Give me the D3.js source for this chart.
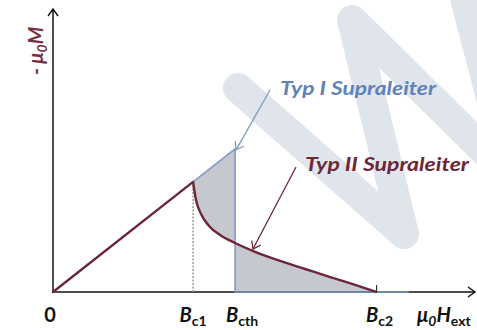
<!DOCTYPE html>
<html>
<head>
<meta charset="utf-8">
<script src="https://cdn.jsdelivr.net/npm/d3@7"></script>
<style>
  html, body { margin: 0; padding: 0; background: #fff; }
  svg { display: block; }
  text { font-family: Lato, "Open Sans", "DejaVu Sans", sans-serif; font-weight: bold; }
</style>
</head>
<body>
<svg id="chart" width="477" height="330"></svg>
<script>
// Magnetisation curves of superconductors: -mu0*M versus applied field mu0*H_ext
// (field in units of B_c1, magnetisation in units of mu0*H at B_c1)

// axis ticks on the field axis
const tickValues = [0, 1.0, 1.3, 2.31];
const tickNames  = [["0", ""], ["B", "c1"], ["B", "cth"], ["B", "c2"]];

// Meissner phase (shared by both types): -mu0M = mu0H up to B_c1
const meissnerH = [0, 1.0];
const meissnerM = [0, 1.0];

// Type I superconductor: linear up to B_cth, then drops to zero
const type1H = [1.0, 1.3, 1.3, 2.54];
const type1M = [1.0, 1.3, 0, 0];

// Type II superconductor: mixed phase between B_c1 and B_c2
const type2H = [1.0, 1.021, 1.057, 1.114, 1.193, 1.3, 1.443, 1.621, 1.8, 1.979, 2.157, 2.31];
const type2M = [1.0, 0.836, 0.709, 0.6, 0.518, 0.445, 0.364, 0.282, 0.209, 0.136, 0.064, 0.0];

const svg = d3.select("#chart");

const x = d3.scaleLinear().domain([0, 3.02]).range([53, 476]);
const y = d3.scaleLinear().domain([0, 2.58]).range([292, 8]);

const maroon = "#6b2737";
const steel = "#7f9ac4";

// background logo (a large tilted "W")
svg.append("path")
  .attr("d", "M238,88 L404,234 L352,20 L512,178 L455,-40")
  .attr("fill", "none")
  .attr("stroke", "#e0e5eb")
  .attr("stroke-width", 30)
  .attr("stroke-linecap", "round")
  .attr("stroke-linejoin", "round");

// arrow markers
const defs = svg.append("defs");
function chevron(id, color, w) {
  defs.append("marker")
    .attr("id", id)
    .attr("viewBox", "-8 -8 16 16")
    .attr("markerUnits", "userSpaceOnUse")
    .attr("markerWidth", 16).attr("markerHeight", 16)
    .attr("refX", 0).attr("refY", 0)
    .attr("orient", "auto")
    .append("path")
    .attr("d", "M-7,-5 L0,0 L-7,5")
    .attr("fill", "none")
    .attr("stroke", color)
    .attr("stroke-width", w);
}
chevron("axisHead", "#111", 1.4);
chevron("steelHead", steel, 1.3);
chevron("maroonHead", maroon, 1.3);

// shaded area: symmetric difference of the two magnetisation regions
const pts = (hs, ms) => hs.map((h, i) => [h, ms[i]]);
const region1 = [[0, 0], [1.3, 1.3], [1.3, 0]];
const lineLin = d3.line().x(d => x(d[0])).y(d => y(d[1]));
const lineCurve = d3.line().x(d => x(d[0])).y(d => y(d[1])).curve(d3.curveMonotoneX);
const region2Path = "M" + x(0) + "," + y(0) + "L" + lineCurve(pts(type2H, type2M)).slice(1) + "Z";
svg.append("path")
  .attr("d", lineLin(region1) + "Z" + region2Path)
  .attr("fill", "#c5c8cf")
  .attr("fill-rule", "evenodd");

// x axis
svg.append("line")
  .attr("x1", x(0)).attr("y1", y(0))
  .attr("x2", x(3.02) - 1).attr("y2", y(0))
  .attr("stroke", "#111").attr("stroke-width", 1.5)
  .attr("marker-end", "url(#axisHead)");

// y axis
svg.append("line")
  .attr("x1", x(0)).attr("y1", y(0))
  .attr("x2", x(0)).attr("y2", y(2.58) + 1)
  .attr("stroke", "#111").attr("stroke-width", 1.5)
  .attr("marker-end", "url(#axisHead)");

// dotted guide at B_c1
svg.append("line")
  .attr("x1", x(1.0)).attr("y1", y(1.0) + 3)
  .attr("x2", x(1.0)).attr("y2", y(0))
  .attr("stroke", "#9a9a9a").attr("stroke-width", 1.5)
  .attr("stroke-dasharray", "2,1.5");

// type I curve
svg.append("path")
  .attr("d", lineLin(pts(type1H, type1M)))
  .attr("fill", "none")
  .attr("stroke", steel).attr("stroke-width", 1.6);

// Meissner line
svg.append("path")
  .attr("d", lineLin(pts(meissnerH, meissnerM)))
  .attr("fill", "none")
  .attr("stroke", maroon).attr("stroke-width", 2.4)
  .attr("stroke-linecap", "round");

// type II curve
svg.append("path")
  .attr("d", lineCurve(pts(type2H, type2M)))
  .attr("fill", "none")
  .attr("stroke", maroon).attr("stroke-width", 2.4);

// end mark at B_c2
svg.append("line")
  .attr("x1", x(2.31)).attr("x2", x(2.31))
  .attr("y1", y(0) - 7).attr("y2", y(0) + 1)
  .attr("stroke", "#333").attr("stroke-width", 1.2);

// tick labels
const labelOffsets = [-3, 0, 7, 3];
tickValues.forEach((v, i) => {
  const t = svg.append("text")
    .attr("x", x(v) + labelOffsets[i])
    .attr("y", 322)
    .attr("text-anchor", "middle")
    .attr("font-size", 20)
    .attr("fill", "#111");
  if (tickNames[i][1] === "") {
    t.text(tickNames[i][0]);
  } else {
    t.append("tspan").attr("font-style", "italic").text(tickNames[i][0]);
    t.append("tspan").attr("font-size", 14).attr("dy", 4).text(tickNames[i][1]);
  }
});

// x axis title
const xt = svg.append("text")
  .attr("x", 417).attr("y", 322)
  .attr("font-size", 20).attr("fill", "#111").attr("font-style", "italic");
xt.append("tspan").text("μ");
xt.append("tspan").attr("font-size", 14).attr("dy", 4).text("0");
xt.append("tspan").attr("dy", -4).text("H");
xt.append("tspan").attr("font-size", 14).attr("dy", 4).attr("font-style", "normal").text("ext");

// y axis title
const yt = svg.append("text")
  .attr("transform", "translate(43,75) rotate(-90)")
  .attr("font-size", 20).attr("fill", "#7a3042").attr("font-style", "italic");
yt.append("tspan").text("- μ");
yt.append("tspan").attr("font-size", 14).attr("dy", 4).text("0");
yt.append("tspan").attr("dy", -4).text("M");

// annotations
svg.append("line")
  .attr("x1", 270).attr("y1", 90)
  .attr("x2", x(1.3) + 1).attr("y2", y(1.3) + 1)
  .attr("stroke", steel).attr("stroke-width", 1.3)
  .attr("marker-end", "url(#steelHead)");
svg.append("text")
  .attr("x", 280).attr("y", 95)
  .attr("font-size", 19).attr("font-style", "italic")
  .attr("fill", "#5f82b8")
  .attr("textLength", 156).attr("lengthAdjust", "spacingAndGlyphs")
  .text("Typ I Supraleiter");

svg.append("line")
  .attr("x1", 296).attr("y1", 167)
  .attr("x2", 253).attr("y2", 249)
  .attr("stroke", maroon).attr("stroke-width", 1.3)
  .attr("marker-end", "url(#maroonHead)");
svg.append("text")
  .attr("x", 305).attr("y", 171)
  .attr("font-size", 19).attr("font-style", "italic")
  .attr("fill", maroon)
  .attr("textLength", 164).attr("lengthAdjust", "spacingAndGlyphs")
  .text("Typ II Supraleiter");
</script>
</body>
</html>
